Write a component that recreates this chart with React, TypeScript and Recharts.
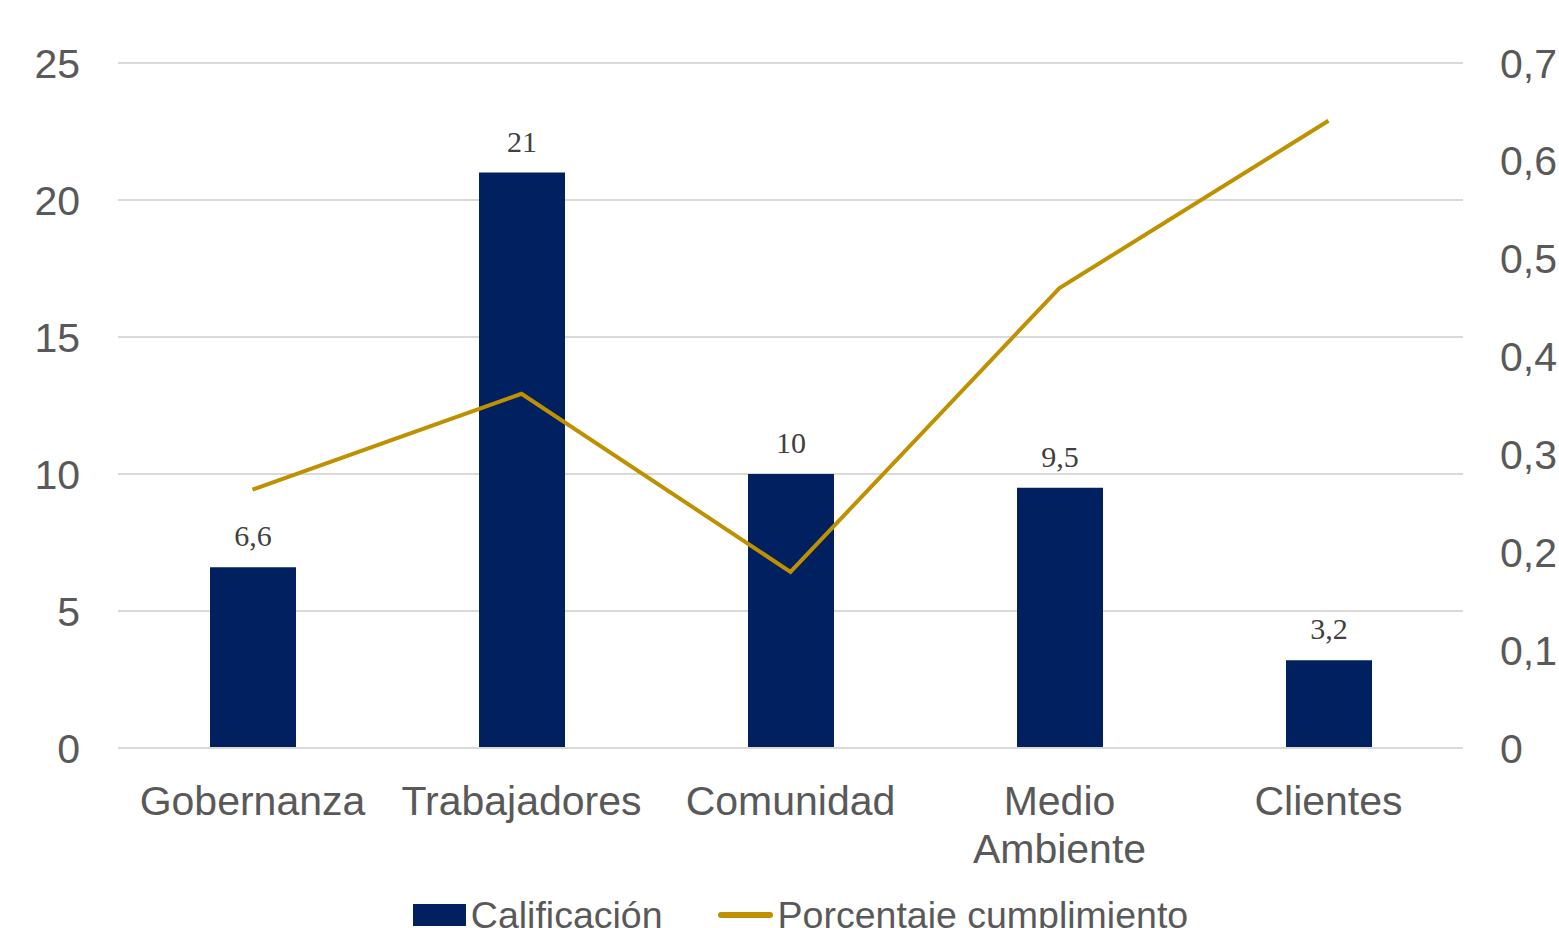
import React from 'react';
import {
  ComposedChart,
  Bar,
  Line,
  XAxis,
  YAxis,
  CartesianGrid,
  LabelList,
  Legend,
} from 'recharts';

const categories = ['Gobernanza', 'Trabajadores', 'Comunidad', 'Medio Ambiente', 'Clientes'];
const calificacion = [6.6, 21, 10, 9.5, 3.2];
const porcentaje = [0.264, 0.362, 0.18, 0.47, 0.641];
const leftTicks = [0, 5, 10, 15, 20, 25];
const rightTicks = [0, 0.1, 0.2, 0.3, 0.4, 0.5, 0.6, 0.7];

const data = categories.map((name, i) => ({
  name,
  calificacion: calificacion[i],
  porcentaje: porcentaje[i],
}));

const NAVY = '#002060';
const GOLD = '#BF9000';
const TEXT = '#595959';
const FONT = '"Liberation Sans", Arial, sans-serif';

const fmt = (v: number) => String(v).replace('.', ',');

function CategoryTick(props: any) {
  const { x, y, payload } = props;
  const words: string[] =
    payload.value === 'Medio Ambiente' ? ['Medio', 'Ambiente'] : [payload.value];
  return (
    <text
      x={x}
      y={y}
      textAnchor="middle"
      fill={TEXT}
      fontSize={41}
      fontFamily={FONT}
    >
      {words.map((w, i) => (
        <tspan key={w} x={x} dy={i === 0 ? 59 : 48}>
          {w}
        </tspan>
      ))}
    </text>
  );
}

function LegendContent() {
  return (
    <div
      style={{
        display: 'flex',
        justifyContent: 'center',
        alignItems: 'center',
        fontFamily: FONT,
        fontSize: 37.5,
        color: TEXT,
        height: 50,
        marginTop: 12,
        paddingLeft: 42,
      }}
    >
      <span style={{ display: 'inline-block', width: 53, height: 22, background: NAVY, marginRight: 5 }} />
      <span style={{ marginRight: 55 }}>Calificación</span>
      <span
        style={{ display: 'inline-block', width: 55, height: 6, borderRadius: 3, background: GOLD, marginRight: 5 }}
      />
      <span>Porcentaje cumplimiento</span>
    </div>
  );
}

export default function App() {
  return (
    <div style={{ position: 'absolute', left: 0, top: 0, width: 1559, height: 928, overflow: 'hidden', background: '#fff' }}>
      <ComposedChart
        width={1559}
        height={928}
        data={data}
        margin={{ top: 63, right: 0, left: 0, bottom: 0 }}
      >
        <CartesianGrid vertical={false} stroke="#D9D9D9" strokeWidth={2} yAxisId="left" />
        <XAxis
          dataKey="name"
          tick={<CategoryTick />}
          tickLine={false}
          axisLine={{ stroke: '#D9D9D9', strokeWidth: 2 }}
          height={130}
          interval={0}
        />
        <YAxis
          yAxisId="left"
          orientation="left"
          width={118}
          domain={[0, 25]}
          ticks={leftTicks}
          tickLine={false}
          axisLine={false}
          tickSize={0}
          tickMargin={38}
          tick={{ fontSize: 41, fill: TEXT, fontFamily: FONT }}
        />
        <YAxis
          yAxisId="right"
          orientation="right"
          width={96}
          domain={[0, 0.7]}
          ticks={rightTicks}
          tickLine={false}
          axisLine={false}
          tickSize={0}
          tickMargin={37}
          tickFormatter={(v: number) => fmt(Math.round(v * 10) / 10)}
          tick={{ fontSize: 41, fill: TEXT, fontFamily: FONT, textAnchor: 'start' }}
        />
        <Legend verticalAlign="bottom" height={50} content={<LegendContent />} />
        <Bar
          yAxisId="left"
          dataKey="calificacion"
          name="Calificación"
          fill={NAVY}
          barSize={86}
          isAnimationActive={false}
        >
          <LabelList
            dataKey="calificacion"
            position="top"
            offset={21}
            formatter={(v: any) => fmt(v)}
            style={{ fill: '#404040', fontSize: 30, fontFamily: '"Liberation Serif", serif' }}
          />
        </Bar>
        <Line
          yAxisId="right"
          dataKey="porcentaje"
          name="Porcentaje cumplimiento"
          stroke={GOLD}
          strokeWidth={4}
          dot={false}
          activeDot={false}
          isAnimationActive={false}
        />
      </ComposedChart>
    </div>
  );
}
